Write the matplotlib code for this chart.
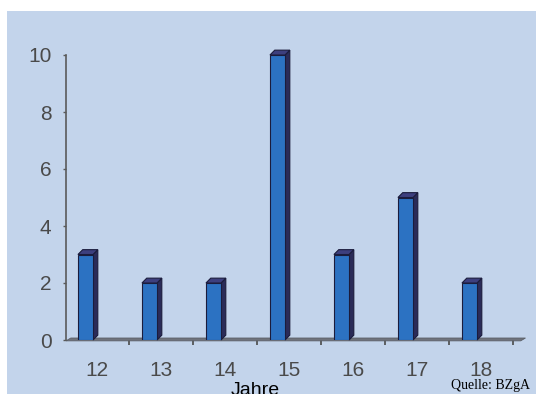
import matplotlib
matplotlib.use("Agg")
import matplotlib.pyplot as plt
from matplotlib.patches import Rectangle, Polygon
import numpy as np

# Data
ages = ["12", "13", "14", "15", "16", "17", "18"]
counts = [3, 2, 2, 10, 3, 5, 2]
y_ticks = [0, 2, 4, 6, 8, 10]

W, H = 536, 394
fig = plt.figure(figsize=(W / 100, H / 100), dpi=100, facecolor="white")

# light blue chart panel
fig.patches.append(Rectangle((7 / W, 0), 1 - 7 / W, (H - 11) / H,
                             transform=fig.transFigure, facecolor="#c3d4eb",
                             edgecolor="none", zorder=-1))

ax = fig.add_axes([66 / W, 54 / H, 457 / W, 285 / H])
ax.set_facecolor("none")
ax.set_xlim(-31 / 64, 426 / 64)
ax.set_ylim(0, 10)

x = np.arange(len(ages))
front_off = -0.18       # bar front centre relative to category
bw = 0.235              # front face width
dx, dy = 0.075, 0.17    # depth offset of the pseudo-3D faces

front_col = "#2c72c2"
side_col = "#2a2b58"
top_col = "#3d3f7e"
edge_col = "#1b1c3c"

# floor band
floor = Polygon([(-0.484, -0.03), (6.62, -0.03), (6.62 + dx, 0.07), (-0.484 + dx, 0.07)],
                closed=True, facecolor="#6f737c", edgecolor="#5c6068", lw=0.6,
                clip_on=False, zorder=2)
ax.add_patch(floor)

# front faces
ax.bar(x + front_off, counts, width=bw, color=front_col, edgecolor=edge_col,
       linewidth=0.8, zorder=4)

for xi, v in zip(x, counts):
    x0 = xi + front_off - bw / 2
    x1 = xi + front_off + bw / 2
    side = Polygon([(x1, 0), (x1 + dx, dy), (x1 + dx, v + dy), (x1, v)],
                   closed=True, facecolor=side_col, edgecolor=edge_col, lw=0.8,
                   zorder=3, clip_on=False)
    top = Polygon([(x0, v), (x1, v), (x1 + dx, v + dy), (x0 + dx, v + dy)],
                  closed=True, facecolor=top_col, edgecolor=edge_col, lw=0.8,
                  zorder=5, clip_on=False)
    ax.add_patch(side)
    ax.add_patch(top)

# axes styling
for s in ("top", "right", "bottom"):
    ax.spines[s].set_visible(False)
ax.spines["left"].set_color("#5a5a5a")
ax.spines["left"].set_linewidth(1.2)

ax.set_yticks(y_ticks)
ax.set_yticklabels([str(t) for t in y_ticks])
ax.tick_params(axis="y", direction="out", length=2.5, width=1.0, color="#5a5a5a",
               pad=8, labelsize=15, labelcolor="#4a4a4a")

ax.set_xticks(x)
ax.set_xticklabels(ages)
ax.tick_params(axis="x", which="major", length=0, pad=15, labelsize=15,
               labelcolor="#4a4a4a")
ax.set_xticks(x + 0.5, minor=True)
ax.tick_params(axis="x", which="minor", direction="out", length=3.5, width=1.2,
               color="#4a4a4a")

for lab in ax.get_xticklabels() + ax.get_yticklabels():
    lab.set_fontfamily("Liberation Sans")

fig.text(255 / W, -1 / H, "Jahre", ha="center", va="baseline",
         fontsize=14, family="Liberation Sans", color="black")
fig.text(530 / W, 5 / H, "Quelle: BZgA", ha="right", va="baseline",
         fontsize=10, family="Liberation Serif", color="black")

fig.savefig("out.png", dpi=100, facecolor="white")
